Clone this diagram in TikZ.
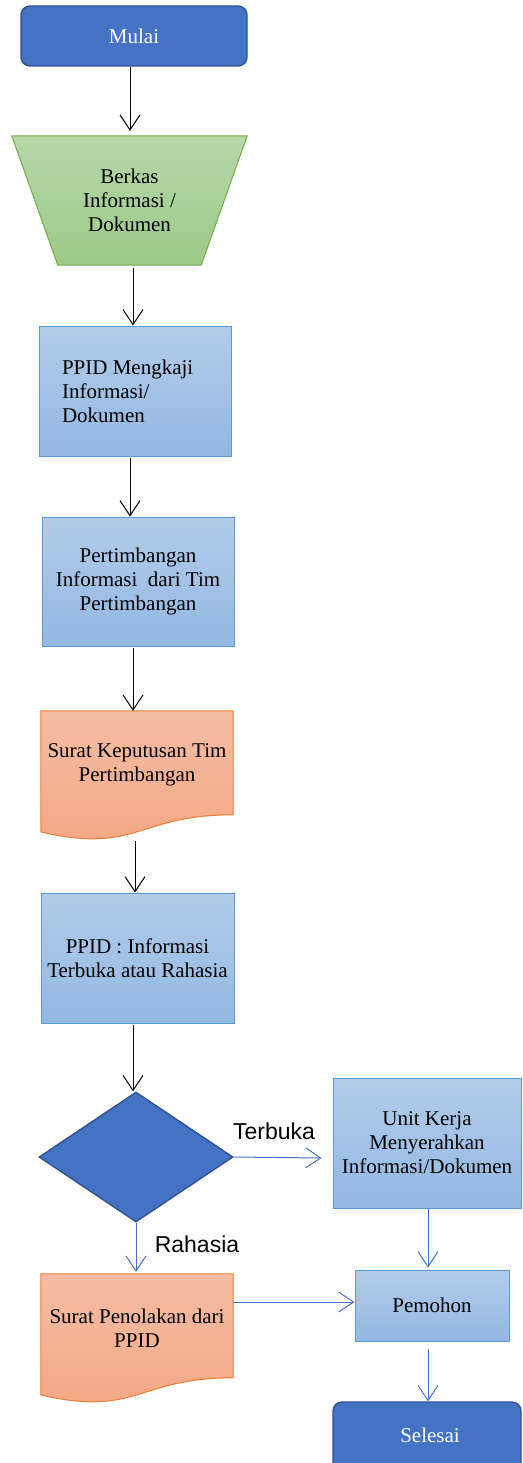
\documentclass[tikz,border=0pt]{standalone}
\usepackage{fontspec}
\setmainfont{Liberation Serif}
\newfontfamily\labelfont{Liberation Sans}
\usetikzlibrary{arrows.meta,shapes.geometric,calc}

\definecolor{termfill}{HTML}{4472C4}
\definecolor{termline}{HTML}{2F528F}
\definecolor{procTop}{HTML}{B2CCEA}
\definecolor{procBot}{HTML}{93B8E2}
\definecolor{procLine}{HTML}{5B9BD5}
\definecolor{docTop}{HTML}{F5BDA5}
\definecolor{docBot}{HTML}{F3A683}
\definecolor{docLine}{HTML}{ED7D31}
\definecolor{inTop}{HTML}{B7D8A9}
\definecolor{inBot}{HTML}{9CC988}
\definecolor{inLine}{HTML}{70AD47}
\definecolor{flowBlue}{HTML}{4472C4}

\tikzset{
  txt/.style={font=\fontsize{21}{24}\selectfont, align=center},
  terminal/.style={txt, rectangle, rounded corners=9pt, fill=termfill, draw=termline,
    line width=1.4pt, text=white, minimum width=226pt, minimum height=60pt, inner sep=0pt},
  proc/.style={txt, rectangle, top color=procTop, bottom color=procBot, draw=procLine,
    line width=1pt, inner sep=0pt},
  frame/.style={rectangle, inner sep=0pt},
  docfill/.style={top color=docTop, bottom color=docBot, draw=docLine, line width=1pt},
  infill/.style={top color=inTop, bottom color=inBot, draw=inLine, line width=1pt},
  decision/.style={diamond, fill=termfill, draw=termline, line width=1.4pt,
    minimum width=194pt, minimum height=130pt, aspect=1.49, inner sep=0pt},
  arr/.style={-{Straight Barb[length=15pt,width=20pt,line width=1pt]}, line width=1pt, black},
  barr/.style={arr, draw=flowBlue},
  branch/.style={font=\labelfont\fontsize{23}{26}\selectfont, inner sep=0pt}
}

% document shape with a wavy lower edge, drawn from a frame node
\newcommand{\docshape}[1]{%
  \path[docfill] (#1.north west) -- (#1.north east)
    -- ($(#1.north east)+(0,104)$)
    .. controls ($(#1.north)+(0,104)$) and ($(#1.north)+(0,143.6)$) ..
    ($(#1.north west)+(0,121.1)$) -- cycle;}

\begin{document}
\begin{tikzpicture}[x=1pt,y=-1pt]
\useasboundingbox (0,0) rectangle (522,1463);

% start
\node[terminal] (mulai) at (134,36) {Mulai};

% input: inverted trapezoid
\node[frame, minimum width=235pt, minimum height=129pt] (berkas) at (129.5,200.5) {};
\path[infill] (berkas.north west) -- (berkas.north east)
  -- ([xshift=-46pt]berkas.south east) -- ([xshift=46pt]berkas.south west) -- cycle;
\node[txt] at (berkas.center) {Berkas\\Informasi /\\Dokumen};

% review
\node[proc, minimum width=192pt, minimum height=130pt] (kaji) at (135,391) {};
\node[txt, align=left, anchor=west] at ([xshift=20pt]kaji.west) {PPID Mengkaji\\Informasi/\\Dokumen};

% consideration
\node[proc, minimum width=192pt, minimum height=129pt] (timbang) at (138,581.5)
  {Pertimbangan\\Informasi\ \ dari Tim\\Pertimbangan};

% decision letter
\node[frame, minimum width=192pt, minimum height=129.7pt] (sk) at (137,775.85) {};
\docshape{sk}
\node[txt] at ([yshift=11pt]sk.center) {Surat Keputusan Tim\\Pertimbangan};

% classification
\node[proc, minimum width=193pt, minimum height=130pt] (klas) at (137.5,958)
  {PPID : Informasi\\Terbuka atau Rahasia};

% open / secret decision
\node[decision] (cek) at (136,1157) {};

% handover by work unit
\node[proc, minimum width=188pt, minimum height=130pt] (unit) at (427,1143)
  {Unit Kerja\\Menyerahkan\\Informasi/Dokumen};

% rejection letter
\node[frame, minimum width=192pt, minimum height=129.7pt] (tolak) at (137,1338.85) {};
\docshape{tolak}
\node[txt] at ([yshift=11pt]tolak.center) {Surat Penolakan dari\\PPID};

% applicant
\node[proc, minimum width=154pt, minimum height=71pt] (pemohon) at (432,1305.5) {Pemohon};

% end
\node[terminal, minimum width=188pt, minimum height=72pt] (selesai) at (427,1438) {};
\node[txt, text=white] at (430,1435) {Selesai};

% main flow
\draw[arr] (mulai.south -| 130,0) -- ([yshift=5pt]berkas.north -| 130,0);
\draw[arr] ([yshift=-3pt]berkas.south -| 133,0) -- (kaji.north -| 133,0);
\draw[arr] ([yshift=-1pt]kaji.south -| 130,0) -- (timbang.north -| 130,0);
\draw[arr] ([yshift=-1pt]timbang.south -| 133,0) -- (sk.north -| 133,0);
\draw[arr] (sk.south -| 135,0) -- (klas.north -| 135,0);
\draw[arr] ([yshift=-1pt]klas.south -| 133,0) -- (cek.north -| 133,0);

% branches
\draw[barr] (cek.east) -- ([xshift=-11pt]unit.west |- 0,1158);
\node[branch, anchor=base] at (274,1139) {Terbuka};
\draw[barr] (cek.south) -- ([yshift=2pt]tolak.north -| cek.south);
\node[branch, anchor=base] at (197,1252) {Rahasia};
\draw[barr] (unit.south -| 428,0) -- ([yshift=2pt]pemohon.north -| 428,0);
\draw[barr] (tolak.east |- 0,1302) -- (pemohon.west |- 0,1302);
\draw[barr] ([yshift=-7pt]pemohon.south -| 428,0) -- (selesai.north -| 428,0);
\end{tikzpicture}
\end{document}
